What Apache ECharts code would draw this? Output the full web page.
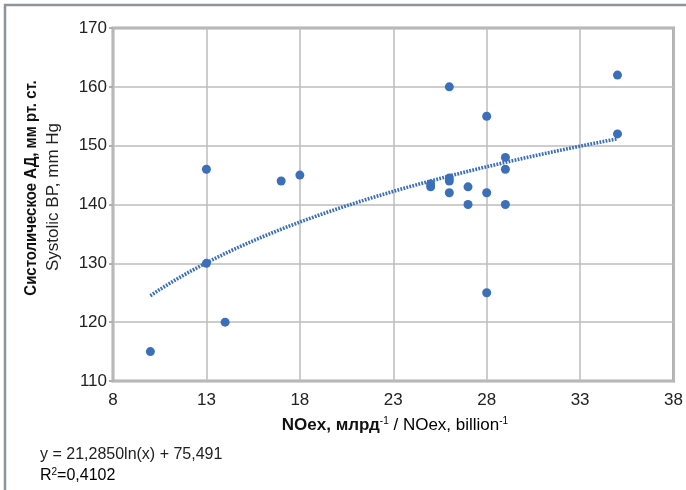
<!DOCTYPE html>
<html>
<head>
<meta charset="utf-8">
<script src="https://cdn.jsdelivr.net/npm/echarts@6/dist/echarts.min.js"></script>
<style>
  html, body { margin: 0; padding: 0; background: #fff; }
  #chart { width: 686px; height: 490px; }
</style>
</head>
<body>
<div id="chart"></div>
<script>
// NOex (billion^-1) vs systolic blood pressure (mm Hg)
const noex = [10, 13, 13, 14, 17, 18, 25, 25, 26, 26, 26, 26, 27, 27, 28, 28, 28, 29, 29, 29, 35, 35];
const systolic = [115, 146, 130, 120, 144, 145, 143, 143.5, 160, 144, 144.5, 142, 143, 140, 155, 142, 125, 148, 146, 140, 162, 152];

// logarithmic trend line: y = a*ln(x) + b
const trendA = 21.2850;
const trendB = 75.491;
const trendR2 = '0,4102';
const trendFrom = 10;
const trendTo = 35;

const xTicks = [8, 13, 18, 23, 28, 33, 38];
const yTicks = [110, 120, 130, 140, 150, 160, 170];

const points = noex.map((x, i) => [x, systolic[i]]);
const trend = [];
for (let x = trendFrom; x <= trendTo + 1e-9; x += 0.25) {
  trend.push([x, trendA * Math.log(x) + trendB]);
}

const FONT = '"Liberation Sans Narrow", "Liberation Sans", Arial, sans-serif';
const chart = echarts.init(document.getElementById('chart'), null, { renderer: 'canvas' });

chart.setOption({
  animation: false,
  backgroundColor: '#ffffff',
  grid: { left: 113, top: 28, width: 561, height: 353, show: true, borderColor: '#adadad', borderWidth: 3, backgroundColor: 'transparent' },
  xAxis: {
    type: 'value', min: xTicks[0], max: xTicks[xTicks.length - 1], interval: 5,
    axisLine: { show: false },
    axisTick: { show: false },
    axisLabel: { fontFamily: FONT, fontSize: 17, color: '#222', margin: 11 },
    splitLine: { show: true, lineStyle: { color: '#bcbcbc', width: 1.5 } }
  },
  yAxis: {
    type: 'value', min: yTicks[0], max: yTicks[yTicks.length - 1], interval: 10,
    axisLine: { show: false },
    axisTick: { show: true, length: 4, lineStyle: { color: '#adadad', width: 2 } },
    axisLabel: { fontFamily: FONT, fontSize: 17, color: '#222', margin: 6 },
    splitLine: { show: true, lineStyle: { color: '#bcbcbc', width: 1.5 } }
  },
  series: [
    {
      type: 'line', data: trend, showSymbol: false, smooth: false, silent: true,
      lineStyle: { color: '#3c6fba', width: 3.6, type: [1.8, 1.3], cap: 'butt' },
      z: 2
    },
    {
      type: 'scatter', data: points, symbol: 'circle', symbolSize: 9,
      itemStyle: { color: '#3c6fba', opacity: 1 },
      z: 3
    }
  ],
  graphic: [
    // outer frame
    { type: 'polyline', shape: { points: [[5, 490], [5, 5], [686, 5]] }, style: { stroke: '#8c959c', lineWidth: 2.5, fill: null } },
    // y axis title
    {
      type: 'text', x: 31, y: 188, rotation: Math.PI / 2, scaleX: 0.88,
      style: { text: 'Систолическое АД, мм рт. ст.', font: 'bold 17px ' + FONT, fill: '#111', align: 'center', verticalAlign: 'middle' }
    },
    {
      type: 'text', x: 53, y: 197, rotation: Math.PI / 2,
      style: { text: 'Systolic BP, mm Hg', font: '17px ' + FONT, fill: '#222', align: 'center', verticalAlign: 'middle' }
    },
    // x axis title
    {
      type: 'text', x: 395, y: 425,
      style: {
        text: '{b|NOex, млрд}{s|-1}{n| / NOex, billion}{s|-1}',
        align: 'center', verticalAlign: 'middle',
        rich: {
          b: { font: 'bold 17px ' + FONT, fill: '#111', color: '#111' },
          n: { font: '17px ' + FONT, color: '#222' },
          s: { font: '10px ' + FONT, color: '#222', verticalAlign: 'top', padding: [0, 0, 8, 0] }
        }
      }
    },
    // trend equation
    {
      type: 'text', x: 40, y: 455,
      style: { text: 'y = 21,2850ln(x) + 75,491', font: '16px ' + FONT, fill: '#222', verticalAlign: 'middle' }
    },
    {
      type: 'text', x: 40, y: 476,
      style: {
        text: '{n|R}{s|2}{n|=' + trendR2 + '}', verticalAlign: 'middle',
        rich: {
          n: { font: '16px ' + FONT, color: '#222' },
          s: { font: '10px ' + FONT, color: '#222', padding: [0, 0, 7, 0] }
        }
      }
    }
  ]
});
</script>
</body>
</html>
